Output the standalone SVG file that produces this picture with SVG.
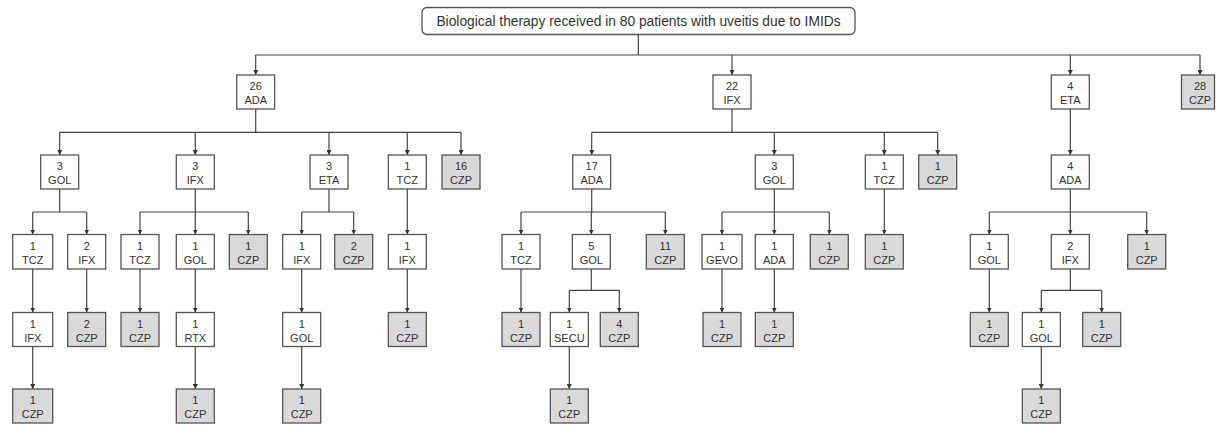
<svg xmlns="http://www.w3.org/2000/svg" width="1216" height="425" viewBox="0 0 1216 425">
<style>
text{font-family:"Liberation Sans",Arial,sans-serif;font-size:11px;fill:#333;text-anchor:middle}
.title{font-size:13.8px}
.w{fill:#fff;stroke:#555;stroke-width:1.3}
.g{fill:#d9d9d9;stroke:#555;stroke-width:1.3}
.c{fill:none;stroke:#444;stroke-width:1.2}
.a{fill:none;stroke:#444;stroke-width:1.2;marker-end:url(#arr)}
</style>
<defs>
<marker id="arr" markerUnits="userSpaceOnUse" viewBox="0 0 10 10" markerWidth="5" markerHeight="5" refX="10" refY="5" orient="auto">
<path d="M0,0L10,5L0,10z" fill="#333"/>
</marker>
</defs>
<rect width="1216" height="425" fill="#fff"/>
<g id="connectors">
<path class="c" d="M638.3,34V55M255.7,55H1200"/>
<path class="a" d="M255.7,55V75"/><path class="a" d="M732,55V75"/><path class="a" d="M1070.3,55V75"/><path class="a" d="M1200,55V75"/>
<path class="c" d="M255.7,109V132.3M59.7,132.3H461"/>
<path class="a" d="M59.7,132.3V155"/><path class="a" d="M195.3,132.3V155"/><path class="a" d="M329,132.3V155"/><path class="a" d="M407.3,132.3V155"/><path class="a" d="M461,132.3V155"/>
<path class="c" d="M732,109V132.3M591.7,132.3H937.7"/>
<path class="a" d="M591.7,132.3V155"/><path class="a" d="M774.3,132.3V155"/><path class="a" d="M884.3,132.3V155"/><path class="a" d="M937.7,132.3V155"/>
<path class="a" d="M1070.3,109V155"/>
<path class="c" d="M59.7,189V212M32.7,212H86.7M195.3,189V212M140,212H248.3M329,189V212M301.7,212H353.7M591.7,189V212M521,212H665.3M774.3,189V212M722,212H829.3M1070.3,189V212M989.3,212H1146.7"/>
<path class="a" d="M32.7,212V234.5"/><path class="a" d="M86.7,212V234.5"/><path class="a" d="M140,212V234.5"/><path class="a" d="M195.3,212V234.5"/><path class="a" d="M248.3,212V234.5"/><path class="a" d="M301.7,212V234.5"/><path class="a" d="M353.7,212V234.5"/><path class="a" d="M407.3,189V234.5"/><path class="a" d="M521,212V234.5"/><path class="a" d="M591.3,212V234.5"/><path class="a" d="M665.3,212V234.5"/><path class="a" d="M722,212V234.5"/><path class="a" d="M774.3,212V234.5"/><path class="a" d="M829.3,212V234.5"/><path class="a" d="M884.3,189V234.5"/><path class="a" d="M989.3,212V234.5"/><path class="a" d="M1070.3,212V234.5"/><path class="a" d="M1146.7,212V234.5"/>
<path class="c" d="M591.3,269V290.3M569.3,290.3H619.3M1070.3,269V290.3M1041.3,290.3H1101.7"/>
<path class="a" d="M32.7,269V312.5"/><path class="a" d="M86.7,269V312.5"/><path class="a" d="M140,269V312.5"/><path class="a" d="M195.3,269V312.5"/><path class="a" d="M301.7,269V312.5"/><path class="a" d="M407.3,269V312.5"/><path class="a" d="M521,269V312.5"/><path class="a" d="M569.3,290.3V312.5"/><path class="a" d="M619.3,290.3V312.5"/><path class="a" d="M722,269V312.5"/><path class="a" d="M774.3,269V312.5"/><path class="a" d="M989.3,269V312.5"/><path class="a" d="M1041.3,290.3V312.5"/><path class="a" d="M1101.7,290.3V312.5"/>
<path class="a" d="M32.7,346.5V389"/><path class="a" d="M195.3,346.5V389"/><path class="a" d="M301.7,346.5V389"/><path class="a" d="M569.3,346.5V389"/><path class="a" d="M1041.3,346.5V389"/>
</g>
<g id="title"><rect x="422" y="7.5" width="433" height="27" rx="5" class="w"/><text class="title" x="638.5" y="26">Biological therapy received in 80 patients with uveitis due to IMIDs</text></g>
<!-- Level 1 -->
<g id="n_ada26"><rect class="w" x="236.7" y="75" width="38" height="34"/><text x="255.7" y="90">26</text><text x="255.7" y="104">ADA</text></g>
<g id="n_ifx22"><rect class="w" x="713" y="75" width="38" height="34"/><text x="732" y="90">22</text><text x="732" y="104">IFX</text></g>
<g id="n_eta4"><rect class="w" x="1051.3" y="75" width="38" height="34"/><text x="1070.3" y="90">4</text><text x="1070.3" y="104">ETA</text></g>
<g id="n_czp28"><rect class="g" x="1181.5" y="75" width="33" height="34"/><text x="1200" y="90">28</text><text x="1200" y="104">CZP</text></g>
<!-- Level 2 -->
<g id="n_gol3"><rect class="w" x="40.7" y="155" width="38" height="34"/><text x="59.7" y="170">3</text><text x="59.7" y="184">GOL</text></g>
<g id="n_ifx3"><rect class="w" x="176.3" y="155" width="38" height="34"/><text x="195.3" y="170">3</text><text x="195.3" y="184">IFX</text></g>
<g id="n_eta3"><rect class="w" x="310" y="155" width="38" height="34"/><text x="329" y="170">3</text><text x="329" y="184">ETA</text></g>
<g id="n_tcz1a"><rect class="w" x="388.3" y="155" width="38" height="34"/><text x="407.3" y="170">1</text><text x="407.3" y="184">TCZ</text></g>
<g id="n_czp16"><rect class="g" x="442" y="155" width="38" height="34"/><text x="461" y="170">16</text><text x="461" y="184">CZP</text></g>
<g id="n_ada17"><rect class="w" x="572.7" y="155" width="38" height="34"/><text x="591.7" y="170">17</text><text x="591.7" y="184">ADA</text></g>
<g id="n_gol3b"><rect class="w" x="755.3" y="155" width="38" height="34"/><text x="774.3" y="170">3</text><text x="774.3" y="184">GOL</text></g>
<g id="n_tcz1b"><rect class="w" x="865.3" y="155" width="38" height="34"/><text x="884.3" y="170">1</text><text x="884.3" y="184">TCZ</text></g>
<g id="n_czp1a"><rect class="g" x="918.7" y="155" width="38" height="34"/><text x="937.7" y="170">1</text><text x="937.7" y="184">CZP</text></g>
<g id="n_ada4"><rect class="w" x="1051.3" y="155" width="38" height="34"/><text x="1070.3" y="170">4</text><text x="1070.3" y="184">ADA</text></g>
<!-- Level 3 -->
<g id="n_l3_tcz_a"><rect class="w" x="12.7" y="234.5" width="40" height="34.5"/><text x="32.7" y="249.5">1</text><text x="32.7" y="263.5">TCZ</text></g>
<g id="n_l3_ifx2"><rect class="w" x="67.7" y="234.5" width="38" height="34.5"/><text x="86.7" y="249.5">2</text><text x="86.7" y="263.5">IFX</text></g>
<g id="n_l3_tcz_b"><rect class="w" x="121" y="234.5" width="38" height="34.5"/><text x="140" y="249.5">1</text><text x="140" y="263.5">TCZ</text></g>
<g id="n_l3_gol_a"><rect class="w" x="176.3" y="234.5" width="38" height="34.5"/><text x="195.3" y="249.5">1</text><text x="195.3" y="263.5">GOL</text></g>
<g id="n_l3_czp_a"><rect class="g" x="229.3" y="234.5" width="38" height="34.5"/><text x="248.3" y="249.5">1</text><text x="248.3" y="263.5">CZP</text></g>
<g id="n_l3_ifx_a"><rect class="w" x="282.7" y="234.5" width="38" height="34.5"/><text x="301.7" y="249.5">1</text><text x="301.7" y="263.5">IFX</text></g>
<g id="n_l3_czp2"><rect class="g" x="334.7" y="234.5" width="38" height="34.5"/><text x="353.7" y="249.5">2</text><text x="353.7" y="263.5">CZP</text></g>
<g id="n_l3_ifx_b"><rect class="w" x="388.3" y="234.5" width="38" height="34.5"/><text x="407.3" y="249.5">1</text><text x="407.3" y="263.5">IFX</text></g>
<g id="n_l3_tcz_c"><rect class="w" x="502" y="234.5" width="38" height="34.5"/><text x="521" y="249.5">1</text><text x="521" y="263.5">TCZ</text></g>
<g id="n_l3_gol5"><rect class="w" x="572.3" y="234.5" width="38" height="34.5"/><text x="591.3" y="249.5">5</text><text x="591.3" y="263.5">GOL</text></g>
<g id="n_l3_czp11"><rect class="g" x="646.3" y="234.5" width="38" height="34.5"/><text x="665.3" y="249.5">11</text><text x="665.3" y="263.5">CZP</text></g>
<g id="n_l3_gevo"><rect class="w" x="702" y="234.5" width="40" height="34.5"/><text x="722" y="249.5">1</text><text x="722" y="263.5">GEVO</text></g>
<g id="n_l3_ada"><rect class="w" x="755.3" y="234.5" width="38" height="34.5"/><text x="774.3" y="249.5">1</text><text x="774.3" y="263.5">ADA</text></g>
<g id="n_l3_czp_b"><rect class="g" x="810.3" y="234.5" width="38" height="34.5"/><text x="829.3" y="249.5">1</text><text x="829.3" y="263.5">CZP</text></g>
<g id="n_l3_czp_c"><rect class="g" x="865.3" y="234.5" width="38" height="34.5"/><text x="884.3" y="249.5">1</text><text x="884.3" y="263.5">CZP</text></g>
<g id="n_l3_gol_b"><rect class="w" x="970.3" y="234.5" width="38" height="34.5"/><text x="989.3" y="249.5">1</text><text x="989.3" y="263.5">GOL</text></g>
<g id="n_l3_ifx2b"><rect class="w" x="1051.3" y="234.5" width="38" height="34.5"/><text x="1070.3" y="249.5">2</text><text x="1070.3" y="263.5">IFX</text></g>
<g id="n_l3_czp_d"><rect class="g" x="1127.7" y="234.5" width="38" height="34.5"/><text x="1146.7" y="249.5">1</text><text x="1146.7" y="263.5">CZP</text></g>
<!-- Level 4 -->
<g id="n_l4_ifx"><rect class="w" x="12.7" y="312.5" width="40" height="34"/><text x="32.7" y="327.5">1</text><text x="32.7" y="341.5">IFX</text></g>
<g id="n_l4_czp2"><rect class="g" x="67.7" y="312.5" width="38" height="34"/><text x="86.7" y="327.5">2</text><text x="86.7" y="341.5">CZP</text></g>
<g id="n_l4_czp_a"><rect class="g" x="121" y="312.5" width="38" height="34"/><text x="140" y="327.5">1</text><text x="140" y="341.5">CZP</text></g>
<g id="n_l4_rtx"><rect class="w" x="176.3" y="312.5" width="38" height="34"/><text x="195.3" y="327.5">1</text><text x="195.3" y="341.5">RTX</text></g>
<g id="n_l4_gol_a"><rect class="w" x="282.7" y="312.5" width="38" height="34"/><text x="301.7" y="327.5">1</text><text x="301.7" y="341.5">GOL</text></g>
<g id="n_l4_czp_b"><rect class="g" x="388.3" y="312.5" width="38" height="34"/><text x="407.3" y="327.5">1</text><text x="407.3" y="341.5">CZP</text></g>
<g id="n_l4_czp_c"><rect class="g" x="502" y="312.5" width="38" height="34"/><text x="521" y="327.5">1</text><text x="521" y="341.5">CZP</text></g>
<g id="n_l4_secu"><rect class="w" x="550.3" y="312.5" width="38" height="34"/><text x="569.3" y="327.5">1</text><text x="569.3" y="341.5">SECU</text></g>
<g id="n_l4_czp4"><rect class="g" x="600.3" y="312.5" width="38" height="34"/><text x="619.3" y="327.5">4</text><text x="619.3" y="341.5">CZP</text></g>
<g id="n_l4_czp_d"><rect class="g" x="703" y="312.5" width="38" height="34"/><text x="722" y="327.5">1</text><text x="722" y="341.5">CZP</text></g>
<g id="n_l4_czp_e"><rect class="g" x="755.3" y="312.5" width="38" height="34"/><text x="774.3" y="327.5">1</text><text x="774.3" y="341.5">CZP</text></g>
<g id="n_l4_czp_f"><rect class="g" x="970.3" y="312.5" width="38" height="34"/><text x="989.3" y="327.5">1</text><text x="989.3" y="341.5">CZP</text></g>
<g id="n_l4_gol_b"><rect class="w" x="1022.3" y="312.5" width="38" height="34"/><text x="1041.3" y="327.5">1</text><text x="1041.3" y="341.5">GOL</text></g>
<g id="n_l4_czp_g"><rect class="g" x="1082.7" y="312.5" width="38" height="34"/><text x="1101.7" y="327.5">1</text><text x="1101.7" y="341.5">CZP</text></g>
<!-- Level 5 -->
<g id="n_l5_czp_a"><rect class="g" x="12.7" y="389" width="40" height="34"/><text x="32.7" y="404">1</text><text x="32.7" y="418">CZP</text></g>
<g id="n_l5_czp_b"><rect class="g" x="176.3" y="389" width="38" height="34"/><text x="195.3" y="404">1</text><text x="195.3" y="418">CZP</text></g>
<g id="n_l5_czp_c"><rect class="g" x="282.7" y="389" width="38" height="34"/><text x="301.7" y="404">1</text><text x="301.7" y="418">CZP</text></g>
<g id="n_l5_czp_d"><rect class="g" x="550.3" y="389" width="38" height="34"/><text x="569.3" y="404">1</text><text x="569.3" y="418">CZP</text></g>
<g id="n_l5_czp_e"><rect class="g" x="1022.3" y="389" width="38" height="34"/><text x="1041.3" y="404">1</text><text x="1041.3" y="418">CZP</text></g>
</svg>
